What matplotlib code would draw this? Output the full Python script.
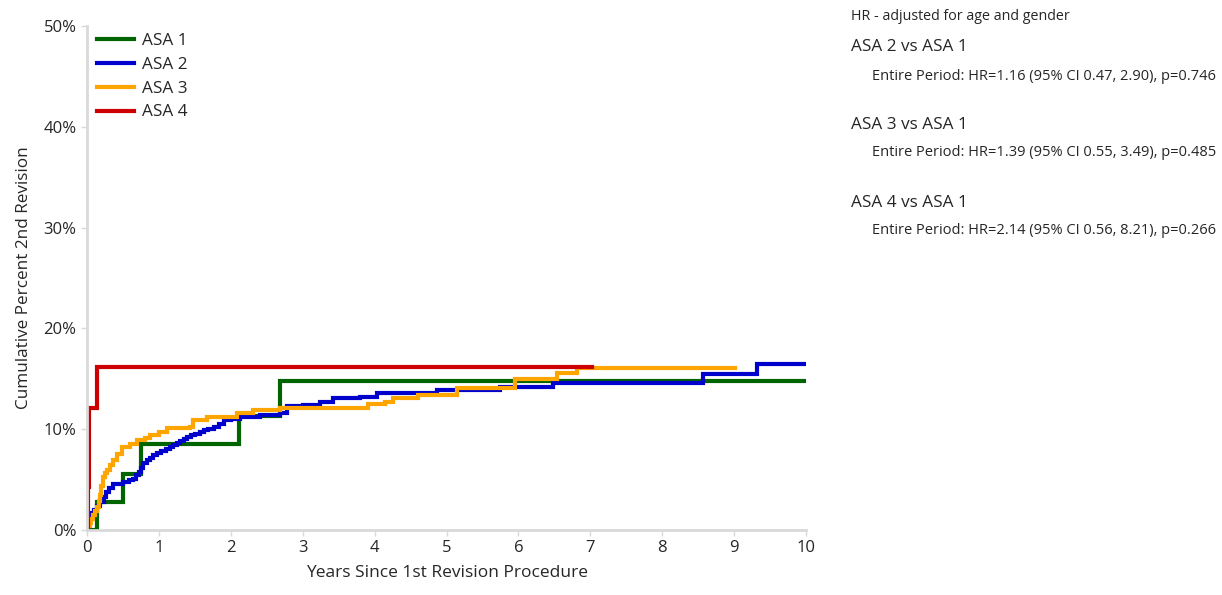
import matplotlib
matplotlib.use("Agg")
import matplotlib.pyplot as plt
from matplotlib.ticker import FuncFormatter

plt.rcParams['font.family'] = ['Open Sans', 'DejaVu Sans']

# ---- data (years, cumulative percent) ----
asa1_t = [0, 0.14, 0.50, 0.75, 2.12, 2.68, 10.0]
asa1_y = [0, 2.8, 5.6, 8.5, 11.3, 14.8, 14.8]

asa2_t = [0, 0.02, 0.04, 0.07, 0.10, 0.14, 0.18, 0.23, 0.27, 0.31, 0.36, 0.50, 0.58,
          0.64, 0.68, 0.72, 0.75, 0.78, 0.83, 0.88, 0.92, 0.97, 1.03,
          1.10, 1.15, 1.20, 1.25, 1.30, 1.35, 1.39, 1.45, 1.50, 1.57, 1.63, 1.68,
          1.76, 1.83, 1.90, 2.00, 2.13, 2.40,
          2.68, 2.78, 3.00, 3.24, 3.42, 3.80, 4.03, 4.87, 5.74, 6.48, 8.57, 9.32, 10.0]
asa2_y = [0, 0.8, 1.3, 1.7, 2.0, 2.4, 2.8, 3.3, 3.8, 4.2, 4.6, 4.8, 5.0,
          5.1, 5.5, 5.8, 6.2, 6.6, 6.9, 7.1, 7.4, 7.6, 7.8,
          8.0, 8.2, 8.4, 8.6, 8.8, 9.0, 9.2, 9.4, 9.5, 9.7, 9.9, 10.0,
          10.2, 10.5, 10.9, 11.0, 11.2, 11.4,
          11.6, 12.3, 12.4, 12.7, 13.1, 13.2, 13.6, 13.9, 14.2, 14.6, 15.5, 16.5, 16.5]

asa3_t = [0, 0.02, 0.04, 0.06, 0.08, 0.11, 0.14, 0.16, 0.18, 0.20, 0.22, 0.25, 0.28,
          0.32, 0.36, 0.42, 0.49, 0.60, 0.70, 0.80,
          0.88, 1.00, 1.11, 1.43, 1.47, 1.67, 2.09, 2.31, 2.68, 3.91, 4.14,
          4.26, 4.60, 5.14, 5.95, 6.54, 6.82, 9.01]
asa3_y = [0, 0.4, 0.7, 1.1, 1.5, 1.9, 2.3, 2.9, 3.5, 4.4, 5.3, 5.7, 6.0,
          6.5, 6.9, 7.5, 8.2, 8.5, 8.9, 9.1,
          9.4, 9.7, 10.1, 10.2, 10.9, 11.2, 11.6, 11.9, 12.1, 12.5, 12.7,
          13.1, 13.4, 14.1, 15.0, 15.6, 16.1, 16.1]

asa4_t = [0, 0.01, 0.03, 0.14, 7.02]
asa4_y = [0, 4.3, 12.1, 16.2, 16.2]

labels = ['ASA 1', 'ASA 2', 'ASA 3', 'ASA 4']
colors = ['#006400', '#0000CD', '#FFA500', '#CC0000']

x_ticks = list(range(0, 11))
y_ticks = [0, 10, 20, 30, 40, 50]

fig = plt.figure(figsize=(12.22, 5.95), dpi=100)
ax = fig.add_axes([0.0712, 0.1092, 0.5884, 0.8471])

series = [(asa1_t, asa1_y), (asa2_t, asa2_y), (asa3_t, asa3_y), (asa4_t, asa4_y)]
for (t, y), lab, c in zip(series, labels, colors):
    ax.plot(t, y, drawstyle='steps-post', color=c, lw=3.0, label=lab,
            solid_joinstyle='miter')

ax.set_xlim(0, 10)
ax.set_ylim(0, 50)
ax.set_xticks(x_ticks)
ax.set_yticks(y_ticks)
ax.yaxis.set_major_formatter(FuncFormatter(lambda v, p: f"{int(v)}%"))

for s in ['top', 'right']:
    ax.spines[s].set_visible(False)
for s in ['left', 'bottom']:
    ax.spines[s].set_color('#d9d9d9')
    ax.spines[s].set_linewidth(2)
ax.tick_params(axis='both', colors='#d9d9d9', labelcolor='#262626',
               labelsize=12, length=4, width=1)

ax.set_xlabel('Years Since 1st Revision Procedure', fontsize=12.5, color='#262626', labelpad=6)
ax.set_ylabel('Cumulative Percent 2nd Revision', fontsize=12.3, color='#262626', labelpad=8)

leg = ax.legend(loc='upper left', bbox_to_anchor=(-0.003, 1.009), frameon=False,
                fontsize=12.3, handlelength=2.2, handletextpad=0.45,
                labelspacing=0.45, borderaxespad=0.3)
for txt in leg.get_texts():
    txt.set_color('#262626')

# right-side annotation
def fx(px):
    return px / 1222

def fy(py):
    return 1 - py / 595

fig.text(fx(851), fy(17), 'HR - adjusted for age and gender', fontsize=10.3,
         color='#262626', va='center')
blocks = [('ASA 2 vs ASA 1', 'Entire Period: HR=1.16 (95% CI 0.47, 2.90), p=0.746', 47, 76),
          ('ASA 3 vs ASA 1', 'Entire Period: HR=1.39 (95% CI 0.55, 3.49), p=0.485', 125, 153),
          ('ASA 4 vs ASA 1', 'Entire Period: HR=2.14 (95% CI 0.56, 8.21), p=0.266', 203, 231)]
for head, body, y1, y2 in blocks:
    fig.text(fx(851), fy(y1), head, fontsize=12.3, color='#262626', va='center')
    fig.text(fx(872), fy(y2), body, fontsize=10.5, color='#262626', va='center')

fig.savefig('out.png', dpi=100)
